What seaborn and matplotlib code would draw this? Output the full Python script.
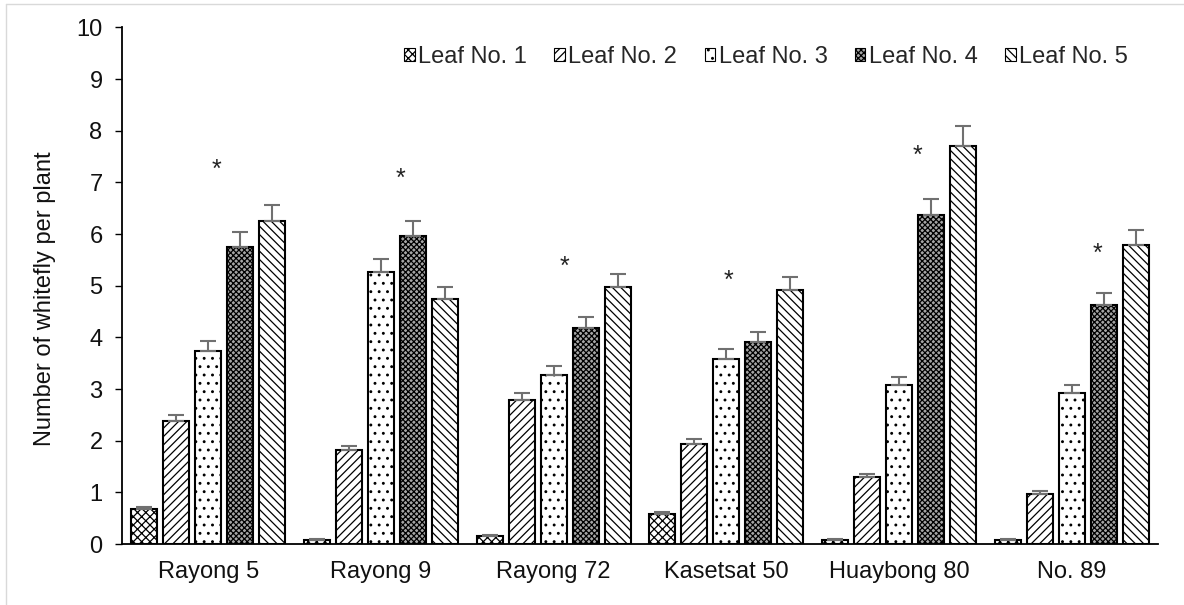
import matplotlib
matplotlib.use("Agg")
import matplotlib.pyplot as plt
import matplotlib.transforms as mtransforms
from matplotlib.patches import Patch
from matplotlib.lines import Line2D
import seaborn as sns
import pandas as pd

# Cassava varieties and leaf positions
varieties = ["Rayong 5", "Rayong 9", "Rayong 72", "Kasetsat 50", "Huaybong 80", "No. 89"]
leaves = ["Leaf No. 1", "Leaf No. 2", "Leaf No. 3", "Leaf No. 4", "Leaf No. 5"]

# Mean whitefly counts per plant, one list per leaf position
leaf1 = [0.67, 0.07, 0.15, 0.58, 0.07, 0.07]
leaf2 = [2.38, 1.82, 2.78, 1.93, 1.30, 0.97]
leaf3 = [3.74, 5.26, 3.28, 3.58, 3.08, 2.93]
leaf4 = [5.75, 5.96, 4.19, 3.91, 6.37, 4.62]
leaf5 = [6.26, 4.74, 4.98, 4.92, 7.70, 5.79]

# Standard errors
leaf1_se = [0.04, 0.02, 0.03, 0.03, 0.02, 0.02]
leaf2_se = [0.12, 0.08, 0.14, 0.10, 0.06, 0.05]
leaf3_se = [0.18, 0.26, 0.16, 0.19, 0.15, 0.15]
leaf4_se = [0.29, 0.29, 0.20, 0.19, 0.31, 0.23]
leaf5_se = [0.30, 0.24, 0.25, 0.25, 0.39, 0.29]

# Significance marks (category, horizontal offset, height)
star_offsets = [0.049, 0.114, 0.065, 0.015, 0.106, 0.148]
star_heights = [7.35, 7.19, 5.48, 5.20, 7.63, 5.73]

means = [leaf1, leaf2, leaf3, leaf4, leaf5]
errors = [leaf1_se, leaf2_se, leaf3_se, leaf4_se, leaf5_se]

rows = []
for leaf, vals in zip(leaves, means):
    for var, v in zip(varieties, vals):
        rows.append({"variety": var, "leaf": leaf, "value": v})
df = pd.DataFrame(rows)

sns.set_theme(style="white")
plt.rcParams["font.family"] = ["Liberation Sans", "DejaVu Sans"]
plt.rcParams["hatch.linewidth"] = 0.9
plt.rcParams["hatch.color"] = "black"

FS = 17

fig = plt.figure(figsize=(11.84, 6.05), dpi=100)
ax = fig.add_axes([0.103, 0.1008, 0.875, 0.854])

sns.barplot(data=df, x="variety", y="value", hue="leaf", order=varieties,
            hue_order=leaves, palette=["white"] * 5, edgecolor="black",
            linewidth=1.5, width=0.926, gap=0.19, errorbar=None,
            legend=False, ax=ax)

# fill style per leaf position
hatches = ["xxxx", "////", "..", "xxxxxx", "\\\\\\\\"]
faces = ["white", "white", "white", "#a6a6a6", "white"]
for cont, hatch, face, se in zip(ax.containers, hatches, faces, errors):
    for bar, e in zip(cont, se):
        bar.set_hatch(hatch)
        bar.set_facecolor(face)
        bar.set_edgecolor("black")
        x = bar.get_x() + bar.get_width() / 2
        y = bar.get_height()
        ax.errorbar(x, y, yerr=[[0], [e]], fmt="none", ecolor="#707070",
                    elinewidth=1.5, capsize=6, capthick=1.5, zorder=1)

# asterisk glyph sits high in its box, so nudge it down onto the mark height
star_shift = ax.transData + mtransforms.ScaledTranslation(0, -0.06, fig.dpi_scale_trans)
for i, (dx, h) in enumerate(zip(star_offsets, star_heights)):
    ax.text(i + dx, h, "*", ha="center", va="center", fontsize=18,
            color="#222222", transform=star_shift)

ax.set_ylim(0, 10)
ax.set_xlim(-0.5, len(varieties) - 0.5)
ax.set_yticks(range(0, 11))
ax.set_xticks([i - 0.5 for i in range(len(varieties) + 1)], minor=True)
ax.tick_params(axis="x", which="major", length=0, labelsize=FS, pad=12, colors="#111111")
ax.tick_params(axis="x", which="minor", length=5, width=1, color="black", direction="out")
ax.tick_params(axis="y", length=5, width=1, color="black", direction="out",
               labelsize=FS, pad=9, labelcolor="#111111", left=True)
ax.set_xlabel("")
ax.set_ylabel("Number of whitefly per plant", fontsize=FS, color="#111111")
ax.yaxis.set_label_coords(-0.064, 0.475)

for side in ["top", "right"]:
    ax.spines[side].set_visible(False)
for side in ["left", "bottom"]:
    ax.spines[side].set_color("black")
    ax.spines[side].set_linewidth(1.3)

handles = [Patch(facecolor=f, edgecolor="black", hatch=h, linewidth=0.8, label=l)
           for h, f, l in zip(hatches, faces, leaves)]
fig.legend(handles=handles, loc="center", bbox_to_anchor=(0.647, 0.906), ncol=5,
           frameon=False, fontsize=FS, handlelength=0.45, handleheight=0.45,
           handletextpad=0.15, columnspacing=1.15, borderaxespad=0)

# Light outer frame
fig.add_artist(Line2D([0.005, 0.005], [0.0, 0.993], transform=fig.transFigure,
                      color="#d9d9d9", lw=1))
fig.add_artist(Line2D([0.005, 1.0], [0.993, 0.993], transform=fig.transFigure,
                      color="#d9d9d9", lw=1))

fig.savefig("out.png", dpi=100)
